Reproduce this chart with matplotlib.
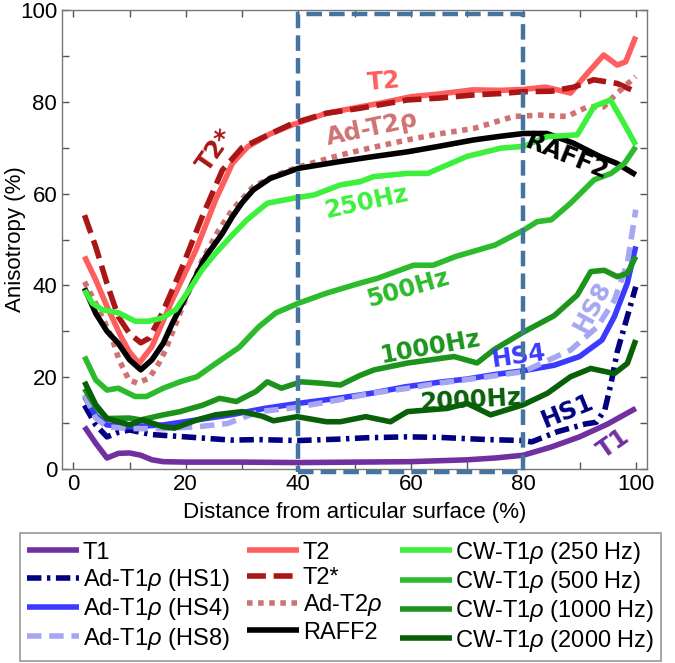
import matplotlib
matplotlib.use("Agg")
import matplotlib.pyplot as plt
from matplotlib.patches import Rectangle

plt.rcParams['font.family'] = ['Liberation Sans', 'DejaVu Sans']
plt.rcParams['mathtext.fontset'] = 'custom'
plt.rcParams['mathtext.it'] = 'Liberation Sans:italic'
plt.rcParams['mathtext.rm'] = 'Liberation Sans'

# ---------------- data ----------------
t1_x = [2, 4, 6, 8, 10, 12, 14, 16, 20, 30, 40, 50, 60, 70, 75, 80, 85, 90, 95, 100]
t1_y = [9.2, 5.6, 2.4, 3.4, 3.5, 3.0, 2.0, 1.6, 1.5, 1.5, 1.4, 1.5, 1.6, 2.0, 2.4, 3.0, 4.8, 7.0, 9.8, 13.2]

hs1_x = [2, 4, 6, 8, 10, 14, 20, 28, 33, 40, 47, 52, 59, 65, 70, 74, 80, 81.5, 86, 91, 93, 94.5, 95.6, 96.7, 98.5, 100]
hs1_y = [13.9, 9.6, 7.0, 8.0, 8.5, 7.5, 7.0, 6.3, 6.4, 6.2, 6.5, 6.8, 7.0, 6.9, 6.6, 6.4, 6.2, 5.9, 8.1, 9.8, 10.2, 12.9, 18.6, 25.5, 33.2, 39.7]

hs4_x = [2, 4, 6, 10, 16, 22, 28, 34, 40, 47, 53, 59, 65, 70, 75, 80, 85.5, 90, 94, 96.2, 98.5, 100]
hs4_y = [15.8, 11.6, 9.6, 9.2, 9.6, 10.7, 11.8, 13.2, 14.3, 15.4, 16.5, 17.9, 18.9, 19.6, 20.6, 21.4, 22.6, 24.5, 28.1, 33.2, 40.5, 48.5]

hs8_x = [2, 4, 6, 10, 16, 22, 27.4, 33, 39, 47, 53, 59, 65, 72, 80, 82.5, 88.4, 93.2, 96.2, 98.5, 100]
hs8_y = [16.2, 11.1, 9.2, 8.8, 8.8, 9.2, 9.9, 12.5, 13.3, 15.0, 16.5, 17.5, 18.7, 19.8, 21.2, 22.6, 25.9, 31.0, 36.8, 44.8, 56.5]

t2_x = [2, 4, 6, 8.5, 10, 11.7, 14, 17.6, 21.8, 25.3, 28.3, 31, 35, 39, 45, 51, 55, 60, 65, 71, 76, 80, 84, 88.4, 91.4, 94.3, 96.7, 98.2, 100]
t2_y = [46.3, 41.2, 35.4, 28.8, 25.5, 23.0, 26.7, 36.8, 47.7, 58.6, 66.6, 70.2, 73.0, 75.0, 77.5, 78.9, 79.8, 81.1, 81.7, 82.6, 82.5, 82.7, 83.2, 81.9, 86.2, 90.2, 88.0, 88.7, 94.2]

t2s_x = [2, 4, 6, 8, 10, 12, 13.5, 15.8, 19.4, 22.9, 26.5, 30, 35, 39, 45, 51, 59.4, 65, 71.2, 76, 80, 85, 89, 92.5, 96.7, 100]
t2s_y = [55.3, 48.4, 40.4, 33.2, 29.5, 27.5, 28.5, 33.9, 44.1, 54.9, 65.1, 70.0, 73.0, 75.3, 77.5, 78.6, 80.4, 80.8, 81.5, 81.8, 82.2, 82.3, 83.2, 84.8, 84.0, 82.2]

adt2_x = [2, 4, 6.9, 8.1, 9.9, 11.4, 13.5, 15.2, 16.4, 17, 19.9, 22.9, 25.9, 28.3, 32, 36, 40, 47.5, 53, 59.4, 65, 71.2, 78.3, 83, 87.8, 91.4, 94.3, 96.7, 100]
adt2_y = [40.8, 36.1, 28.5, 23.9, 19.4, 18.7, 19.8, 23.0, 25.9, 27.8, 36.8, 45.5, 52.1, 56.5, 61.5, 64.0, 65.8, 68.4, 70.0, 71.7, 73.0, 74.2, 76.8, 77.1, 76.8, 78.9, 78.9, 81.9, 85.5]

raff_x = [2, 4, 6, 8, 10, 12, 14, 16, 17.6, 20.6, 23.5, 26.5, 28.3, 30, 32, 35, 40, 47.5, 53, 59.4, 65, 71.2, 76, 80.1, 84.2, 88.9, 93.6, 96.6, 100]
raff_y = [39.4, 33.9, 30.0, 27.4, 23.8, 21.6, 23.8, 27.4, 31.7, 39.0, 46.2, 51.3, 55.0, 58.0, 60.8, 63.3, 65.5, 67.0, 68.0, 69.1, 70.3, 71.7, 72.5, 73.1, 73.1, 71.0, 68.1, 66.6, 64.1]

cw250_x = [2, 3.4, 5.2, 8.1, 11, 13.4, 15.8, 18.2, 20.6, 22.9, 25.3, 28.3, 30.9, 34.5, 39.2, 42.8, 47.5, 51, 53.4, 59.4, 63, 70, 76, 80.1, 84.2, 89.6, 92.6, 95.5, 97.9, 100]
cw250_y = [39.0, 36.1, 34.7, 34.0, 32.2, 32.2, 32.9, 34.7, 39.0, 43.4, 47.0, 51.0, 54.3, 57.9, 59.0, 59.7, 61.9, 62.6, 63.7, 64.4, 64.4, 68.1, 69.9, 70.3, 72.4, 72.8, 79.0, 80.4, 75.3, 70.6]

cw500_x = [2, 4, 6, 8, 11, 13, 16, 19, 22, 25, 29.5, 33, 36, 40, 45, 51, 54, 60.5, 64, 68, 75, 80, 82.5, 85, 88.4, 92.6, 95.6, 98, 100]
cw500_y = [24.5, 19.4, 17.2, 17.6, 15.8, 15.8, 17.6, 19.0, 20.1, 22.7, 26.5, 31.0, 34.0, 36.1, 38.3, 40.5, 41.5, 44.4, 44.4, 46.3, 48.8, 52.0, 53.9, 54.3, 57.9, 63.0, 64.4, 66.6, 70.2]

cw1000_x = [2, 4, 6, 10, 12, 16, 19, 23, 26, 29, 32.5, 34.5, 37, 40.5, 44, 47.5, 51, 53.5, 59.5, 67.7, 71.8, 74.8, 80, 85.5, 89.6, 92, 94.4, 96.7, 98.5, 100]
cw1000_y = [17.5, 13.5, 11.0, 11.1, 10.7, 11.8, 12.5, 13.9, 15.4, 14.7, 16.9, 19.0, 17.6, 19.0, 18.7, 18.3, 20.4, 21.6, 23.1, 24.5, 23.1, 26.0, 29.8, 33.4, 37.9, 43.0, 43.3, 41.9, 42.6, 46.3]

cw2000_x = [2, 4, 6, 10, 12.3, 16, 18, 22, 25.3, 30, 33.6, 35.6, 39.8, 45, 47.5, 52, 56.4, 59.4, 66.5, 70, 74.2, 80, 84.3, 88.4, 92, 96.2, 98.5, 100]
cw2000_y = [19.0, 14.0, 11.0, 9.6, 10.7, 9.2, 8.9, 10.7, 11.8, 12.5, 11.5, 10.5, 11.4, 10.3, 10.3, 11.4, 10.3, 12.5, 13.2, 14.3, 11.8, 14.0, 16.5, 20.1, 21.9, 20.8, 23.0, 28.1]

legend_labels = ['T1', r'Ad-T1$\rho$ (HS1)', r'Ad-T1$\rho$ (HS4)', r'Ad-T1$\rho$ (HS8)',
                 'T2', 'T2*', r'Ad-T2$\rho$', 'RAFF2',
                 r'CW-T1$\rho$ (250 Hz)', r'CW-T1$\rho$ (500 Hz)', r'CW-T1$\rho$ (1000 Hz)', r'CW-T1$\rho$ (2000 Hz)']

inline_labels = ['T1', 'HS1', 'HS4', 'HS8', 'T2', 'T2*', 'Ad-T2ρ', 'RAFF2', '250Hz', '500Hz', '1000Hz', '2000Hz']
label_pos = [(96.0, 5.5), (87.9, 12.6), (79.2, 24.6), (92.3, 35.3), (55.2, 84.3), (25.3, 69.5),
             (53.2, 74.2), (87.7, 68.0), (52.0, 58.2), (59.6, 39.2), (63.5, 26.6), (70.6, 15.0)]
label_rot = [35, 22, 8, 62, 5, 55, 12, -22, 12, 16, 10, 3]

# ---------------- styles ----------------
series = [
    (t1_x, t1_y, '#7030A0', '-'),
    (hs1_x, hs1_y, '#000080', (0, (2.6, 1.0, 0.6, 1.0))),
    (hs4_x, hs4_y, '#3B3BFF', '-'),
    (hs8_x, hs8_y, '#A6A6F2', (0, (2.6, 1.4))),
    (t2_x, t2_y, '#FF5E5E', '-'),
    (t2s_x, t2s_y, '#AA1515', (0, (3.4, 1.4))),
    (adt2_x, adt2_y, '#D07272', (0, (1.0, 1.0))),
    (raff_x, raff_y, '#000000', '-'),
    (cw250_x, cw250_y, '#3CF03C', '-'),
    (cw500_x, cw500_y, '#2CBB2C', '-'),
    (cw1000_x, cw1000_y, '#1C941C', '-'),
    (cw2000_x, cw2000_y, '#086008', '-'),
]

fig = plt.figure(figsize=(6.75, 6.63), dpi=100)
ax = fig.add_axes([62/675, 1-469/663, (647-62)/675, (469-10)/663])

draw_order = [8, 9, 10, 11, 2, 3, 1, 0, 7, 4, 5, 6]
handles = [None]*12
for i in draw_order:
    x, y, c, ls = series[i]
    ln, = ax.plot(x, y, color=c, lw=4, linestyle=ls, solid_capstyle='butt', dash_capstyle='butt', zorder=3+i*0.01)
    handles[i] = ln

for txt, (px, py), rot, s in zip(inline_labels, label_pos, label_rot, series):
    ax.text(px, py, txt, color=s[2], rotation=rot, ha='center', va='center',
            fontsize=17.5, fontweight='bold', family='DejaVu Sans', zorder=6, rotation_mode='anchor')

rect = Rectangle((40, -0.6), 40, 99.8, fill=False, edgecolor='#44749F', lw=3.2,
                 linestyle=(0, (3.5, 1.6)), clip_on=False, zorder=7)
ax.add_patch(rect)

ax.set_xlim(-2, 102)
ax.set_ylim(0, 100)
ax.set_xticks(range(0, 101, 20))
ax.set_xticks(range(0, 101, 10), minor=True)
ax.set_yticks(range(0, 101, 20))
ax.set_yticks(range(0, 101, 10), minor=True)
ax.tick_params(which='both', direction='in', top=True, right=True, labelsize=16, color='#555555', width=1)
ax.tick_params(which='major', length=5)
ax.tick_params(which='minor', length=5)
for sp in ax.spines.values():
    sp.set_color('#777777')
    sp.set_linewidth(1)
ax.set_xlabel('Distance from articular surface (%)', fontsize=16, labelpad=5)
ax.set_ylabel('Anisotropy (%)', fontsize=16)
ax.yaxis.set_label_coords(-36/585, 0.5)

leg = fig.legend(handles, legend_labels, ncol=3, loc='lower center', bbox_to_anchor=(0.505, 0.0),
                 fontsize=17, frameon=True, fancybox=False, edgecolor='#888888',
                 handlelength=2.2, handletextpad=0.15, columnspacing=0.75, labelspacing=0.14,
                 borderpad=0.3, borderaxespad=0.1)
leg.get_frame().set_linewidth(1.3)

fig.savefig('out.png', dpi=100)
